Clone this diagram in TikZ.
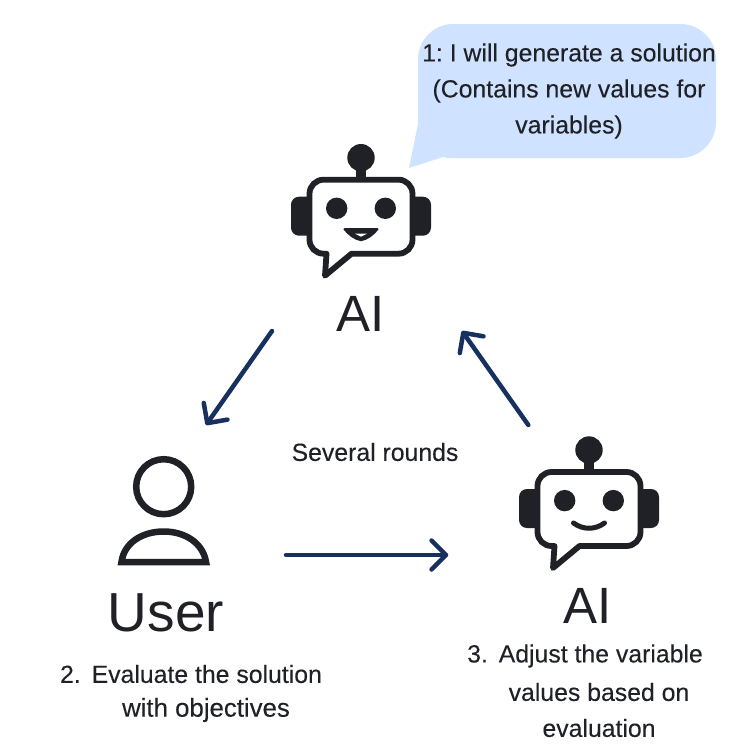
\documentclass[tikz,border=0pt]{standalone}
\usepackage{fontspec}
\setmainfont{Liberation Sans}
\newfontfamily\captionfont[FakeBold=0.15]{Liberation Sans}
\usetikzlibrary{arrows.meta}
\definecolor{ink}{HTML}{1F2127}
\definecolor{navy}{HTML}{17305F}
\definecolor{bubblefill}{HTML}{CFE2FF}
\pgfdeclarearrow{
  name=OpenV,
  setup code={\pgfarrowssettipend{2.25pt}\pgfarrowssetlineend{-1pt}\pgfarrowssetbackend{-14.5pt}\pgfarrowssetvisualbackend{-1pt}},
  drawing code={%
    \pgfsetdash{}{0pt}\pgfsetroundcap\pgfsetroundjoin
    \pgfpathmoveto{\pgfpoint{-14.5pt}{14.5pt}}%
    \pgfpathlineto{\pgfpointorigin}%
    \pgfpathlineto{\pgfpoint{-14.5pt}{-14.5pt}}%
    \pgfusepathqstroke}
}
\tikzset{
  flow/.style={draw=navy,line width=4.5pt,line cap=round,-{OpenV}},
  caption/.style={text=ink,font=\captionfont\frenchspacing\fontsize{24.8}{28}\selectfont,inner sep=0pt,anchor=center},
  biglabel/.style={text=ink,inner sep=0pt,anchor=base},
  actor/.style={draw=none,fill=none,inner sep=0pt,outer sep=0pt,minimum width=#1},
  outline/.style={draw=ink,line width=5.8pt,line join=round,line cap=round}
}
\newcommand{\robotbody}{%
  \fill[ink] (0,0) circle (13.7);
  \fill[ink] (-5,8) rectangle (5,22);
  % ears
  \fill[ink,rounded corners=8pt] (-70,39) rectangle (-40,78);
  \fill[ink,rounded corners=8pt] (40,39) rectangle (70,78);
  % head
  \draw[outline,fill=white] (-37.5,22) -- (37.5,22) .. controls (45.2,22) and (51.5,28.3) .. (51.5,36) -- (51.5,82) .. controls (51.5,89.7) and (45.2,96) .. (37.5,96) -- (-9.5,96) -- (-36,118) -- (-34.5,96) -- (-37.5,96) .. controls (-45.2,96) and (-51.5,89.7) .. (-51.5,82) -- (-51.5,36) .. controls (-51.5,28.3) and (-45.2,22) .. (-37.5,22) -- cycle;
  % eyes
  \fill[ink] (-24.3,50.6) circle (10.7);
  \fill[ink] (24.3,50.6) circle (10.7);
}
\begin{document}
\begin{tikzpicture}[x=1pt,y=-1pt]
\useasboundingbox (0,0) rectangle (750,750);
% bubble
\fill[bubblefill] (409,168) -- (418,124) -- (418,59) .. controls (418,40) and (434,24) .. (453,24) -- (680,24) .. controls (700,24) and (716,40) .. (716,59) -- (716,122) .. controls (716,142) and (700,158) .. (680,158) -- (450,158) .. controls (447,158) and (445,157.5) .. (443,157) -- cycle;
\node[caption] (bubble1) at (569,55) {1: I will generate a solution};
\node[caption] (bubble2) at (569,91) {(Contains new values for};
\node[caption] (bubble3) at (569,127) {variables)};
% top robot
\begin{scope}[shift={(361,157.7)}]
  \robotbody
  \filldraw[ink,line width=2pt,line join=round] (-16.5,71.5) -- (16.5,71.5) .. controls (12,77) and (6,81.5) .. (0,82.5) .. controls (-6,81.5) and (-12,77) .. (-16.5,71.5) -- cycle;
  \fill[white] (-6,76) -- (6,76) -- (0,79) -- cycle;
\end{scope}
\node[biglabel,font=\fontsize{51}{51}\selectfont] (labelTop) at (361,331) {AI};
% bottom robot
\begin{scope}[shift={(589,450)}]
  \robotbody
  \draw[ink,line width=5pt,line cap=round] (-15.5,73) .. controls (-6,80) and (6,80) .. (15.5,73);
\end{scope}
\node[biglabel,font=\fontsize{51}{51}\selectfont] (labelBottom) at (588,623) {AI};
% user
\draw[ink,line width=6.5pt] (163.7,486.7) circle (27.5);
\draw[ink,line width=6.5pt,line join=miter] (121.5,562) .. controls (124,543) and (142,531.5) .. (163.7,531.5) .. controls (185,531.5) and (203,543) .. (206,562) -- cycle;
\node[biglabel,font=\fontsize{55}{55}\selectfont] (labelUser) at (166,631) {User};
% captions
\node[caption] (rounds) at (375,452) {Several rounds};
\node[caption] (userA) at (191,674) {2.\hspace{4pt} Evaluate the solution};
\node[caption,font=\captionfont\frenchspacing\fontsize{25.8}{28}\selectfont] (userB) at (206,710) {with objectives};
\node[caption] (aiA) at (585,656) {3.\hspace{4pt} Adjust the variable};
\node[caption] (aiB) at (599,692) {values based on};
\node[caption] (aiC) at (599,728) {evaluation};
% invisible actor boxes used as connector ends
\node[actor=190pt,minimum height=186pt] (aiTop) at (367,238) {};
\node[actor=160pt,minimum height=260pt] (user) at (206,555) {};
\node[actor=160pt,minimum height=260pt] (aiBottom) at (528.3,555) {};
\draw[flow] (aiTop.south west) -- (user.north);
\draw[flow] (user.east) -- (aiBottom.west);
\draw[flow] (aiBottom.north) -- (aiTop.south east);
\end{tikzpicture}
\end{document}
